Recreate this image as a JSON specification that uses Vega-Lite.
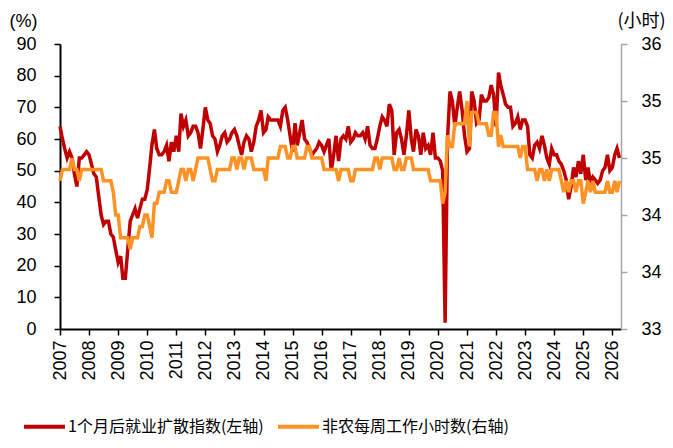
{
  "$schema": "https://vega.github.io/schema/vega-lite/v6.json",
  "autosize": "none",
  "width": 561,
  "height": 285,
  "padding": {"left": 60, "top": 44, "right": 52, "bottom": 119},
  "background": "white",
  "config": {
    "view": {"stroke": null},
    "font": "Liberation Sans",
    "axis": {"grid": false, "labelColor": "#000", "titleColor": "#000", "labelFont": "Liberation Sans", "titleFont": "Noto Sans CJK SC", "labelFontSize": 18, "titleFontSize": 18, "titleFontWeight": "normal"}
  },
  "data": {
    "format": {"parse": {"d": "utc:'%Y-%m'"}},
    "values": [
      {"d":"2007-01","r":64,"h":34.3},{"d":"2007-02","r":60,"h":34.4},{"d":"2007-03","r":57,"h":34.4},{"d":"2007-04","r":54,"h":34.4},{"d":"2007-05","r":56,"h":34.4},{"d":"2007-06","r":54,"h":34.5},{"d":"2007-07","r":49,"h":34.4},{"d":"2007-08","r":45,"h":34.4},{"d":"2007-09","r":54,"h":34.3},{"d":"2007-10","r":54,"h":34.4},{"d":"2007-11","r":55,"h":34.4},{"d":"2007-12","r":56,"h":34.4},
      {"d":"2008-01","r":55,"h":34.4},{"d":"2008-02","r":52,"h":34.4},{"d":"2008-03","r":49,"h":34.4},{"d":"2008-04","r":48,"h":34.4},{"d":"2008-05","r":42,"h":34.4},{"d":"2008-06","r":36,"h":34.4},{"d":"2008-07","r":33,"h":34.3},{"d":"2008-08","r":34,"h":34.3},{"d":"2008-09","r":34,"h":34.3},{"d":"2008-10","r":30,"h":34.3},{"d":"2008-11","r":29,"h":34.2},{"d":"2008-12","r":25,"h":34.0},
      {"d":"2009-01","r":21,"h":34.0},{"d":"2009-02","r":23,"h":33.8},{"d":"2009-03","r":16,"h":33.8},{"d":"2009-04","r":16,"h":33.8},{"d":"2009-05","r":25,"h":33.8},{"d":"2009-06","r":34,"h":33.7},{"d":"2009-07","r":36,"h":33.8},{"d":"2009-08","r":38,"h":33.8},{"d":"2009-09","r":35,"h":33.8},{"d":"2009-10","r":38,"h":33.9},{"d":"2009-11","r":41,"h":33.9},{"d":"2009-12","r":41,"h":34.0},
      {"d":"2010-01","r":44,"h":34.0},{"d":"2010-02","r":51,"h":33.9},{"d":"2010-03","r":58,"h":33.8},{"d":"2010-04","r":63,"h":34.1},{"d":"2010-05","r":57,"h":34.1},{"d":"2010-06","r":55,"h":34.2},{"d":"2010-07","r":55,"h":34.2},{"d":"2010-08","r":56,"h":34.2},{"d":"2010-09","r":58,"h":34.3},{"d":"2010-10","r":53,"h":34.3},{"d":"2010-11","r":59,"h":34.2},{"d":"2010-12","r":56,"h":34.2},
      {"d":"2011-01","r":61,"h":34.2},{"d":"2011-02","r":56,"h":34.3},{"d":"2011-03","r":68,"h":34.4},{"d":"2011-04","r":64,"h":34.4},{"d":"2011-05","r":66,"h":34.3},{"d":"2011-06","r":61,"h":34.4},{"d":"2011-07","r":62,"h":34.4},{"d":"2011-08","r":64,"h":34.3},{"d":"2011-09","r":64,"h":34.4},{"d":"2011-10","r":62,"h":34.5},{"d":"2011-11","r":57,"h":34.5},{"d":"2011-12","r":63,"h":34.5},
      {"d":"2012-01","r":70,"h":34.5},{"d":"2012-02","r":66,"h":34.5},{"d":"2012-03","r":65,"h":34.4},{"d":"2012-04","r":61,"h":34.3},{"d":"2012-05","r":60,"h":34.3},{"d":"2012-06","r":56,"h":34.4},{"d":"2012-07","r":58,"h":34.4},{"d":"2012-08","r":61,"h":34.4},{"d":"2012-09","r":62,"h":34.4},{"d":"2012-10","r":59,"h":34.4},{"d":"2012-11","r":60,"h":34.4},{"d":"2012-12","r":62,"h":34.5},
      {"d":"2013-01","r":63,"h":34.5},{"d":"2013-02","r":61,"h":34.4},{"d":"2013-03","r":58,"h":34.5},{"d":"2013-04","r":55,"h":34.5},{"d":"2013-05","r":59,"h":34.4},{"d":"2013-06","r":61,"h":34.5},{"d":"2013-07","r":60,"h":34.5},{"d":"2013-08","r":56,"h":34.5},{"d":"2013-09","r":59,"h":34.4},{"d":"2013-10","r":64,"h":34.4},{"d":"2013-11","r":66,"h":34.4},{"d":"2013-12","r":69,"h":34.4},
      {"d":"2014-01","r":62,"h":34.4},{"d":"2014-02","r":63,"h":34.3},{"d":"2014-03","r":67,"h":34.5},{"d":"2014-04","r":66,"h":34.5},{"d":"2014-05","r":66,"h":34.5},{"d":"2014-06","r":66,"h":34.5},{"d":"2014-07","r":66,"h":34.5},{"d":"2014-08","r":64,"h":34.6},{"d":"2014-09","r":69,"h":34.6},{"d":"2014-10","r":70,"h":34.6},{"d":"2014-11","r":66,"h":34.5},{"d":"2014-12","r":61,"h":34.5},
      {"d":"2015-01","r":56,"h":34.6},{"d":"2015-02","r":65,"h":34.6},{"d":"2015-03","r":58,"h":34.5},{"d":"2015-04","r":62,"h":34.5},{"d":"2015-05","r":66,"h":34.5},{"d":"2015-06","r":60,"h":34.5},{"d":"2015-07","r":59,"h":34.6},{"d":"2015-08","r":57,"h":34.6},{"d":"2015-09","r":55,"h":34.5},{"d":"2015-10","r":56,"h":34.5},{"d":"2015-11","r":57,"h":34.5},{"d":"2015-12","r":59,"h":34.5},
      {"d":"2016-01","r":58,"h":34.5},{"d":"2016-02","r":56,"h":34.4},{"d":"2016-03","r":58,"h":34.4},{"d":"2016-04","r":60,"h":34.4},{"d":"2016-05","r":50,"h":34.4},{"d":"2016-06","r":55,"h":34.4},{"d":"2016-07","r":61,"h":34.4},{"d":"2016-08","r":53,"h":34.3},{"d":"2016-09","r":60,"h":34.4},{"d":"2016-10","r":61,"h":34.4},{"d":"2016-11","r":60,"h":34.4},{"d":"2016-12","r":64,"h":34.4},
      {"d":"2017-01","r":59,"h":34.3},{"d":"2017-02","r":60,"h":34.3},{"d":"2017-03","r":62,"h":34.4},{"d":"2017-04","r":61,"h":34.4},{"d":"2017-05","r":61,"h":34.4},{"d":"2017-06","r":62,"h":34.4},{"d":"2017-07","r":60,"h":34.4},{"d":"2017-08","r":64,"h":34.4},{"d":"2017-09","r":58,"h":34.4},{"d":"2017-10","r":57,"h":34.4},{"d":"2017-11","r":57,"h":34.5},{"d":"2017-12","r":60,"h":34.5},
      {"d":"2018-01","r":64,"h":34.4},{"d":"2018-02","r":67,"h":34.5},{"d":"2018-03","r":66,"h":34.5},{"d":"2018-04","r":64,"h":34.5},{"d":"2018-05","r":71,"h":34.5},{"d":"2018-06","r":69,"h":34.5},{"d":"2018-07","r":55,"h":34.4},{"d":"2018-08","r":62,"h":34.4},{"d":"2018-09","r":63,"h":34.5},{"d":"2018-10","r":60,"h":34.4},{"d":"2018-11","r":55,"h":34.4},{"d":"2018-12","r":61,"h":34.5},
      {"d":"2019-01","r":69,"h":34.5},{"d":"2019-02","r":60,"h":34.5},{"d":"2019-03","r":56,"h":34.4},{"d":"2019-04","r":63,"h":34.4},{"d":"2019-05","r":61,"h":34.4},{"d":"2019-06","r":55,"h":34.4},{"d":"2019-07","r":62,"h":34.4},{"d":"2019-08","r":57,"h":34.4},{"d":"2019-09","r":58,"h":34.4},{"d":"2019-10","r":55,"h":34.3},{"d":"2019-11","r":62,"h":34.3},{"d":"2019-12","r":54,"h":34.3},
      {"d":"2020-01","r":54,"h":34.3},{"d":"2020-02","r":53,"h":34.3},{"d":"2020-03","r":50,"h":34.1},{"d":"2020-04","r":2,"h":34.2},{"d":"2020-05","r":60,"h":34.7},{"d":"2020-06","r":75,"h":34.6},{"d":"2020-07","r":72,"h":34.6},{"d":"2020-08","r":64,"h":34.8},{"d":"2020-09","r":70,"h":34.8},{"d":"2020-10","r":75,"h":34.8},{"d":"2020-11","r":69,"h":34.8},{"d":"2020-12","r":61,"h":34.8},
      {"d":"2021-01","r":56,"h":35.0},{"d":"2021-02","r":57,"h":34.6},{"d":"2021-03","r":75,"h":34.9},{"d":"2021-04","r":72,"h":34.9},{"d":"2021-05","r":65,"h":34.9},{"d":"2021-06","r":66,"h":34.8},{"d":"2021-07","r":74,"h":34.8},{"d":"2021-08","r":72,"h":34.8},{"d":"2021-09","r":72,"h":34.8},{"d":"2021-10","r":73,"h":34.7},{"d":"2021-11","r":77,"h":34.7},{"d":"2021-12","r":74,"h":34.9},
      {"d":"2022-01","r":64,"h":34.9},{"d":"2022-02","r":81,"h":34.6},{"d":"2022-03","r":77,"h":34.7},{"d":"2022-04","r":74,"h":34.6},{"d":"2022-05","r":71,"h":34.6},{"d":"2022-06","r":70,"h":34.6},{"d":"2022-07","r":70,"h":34.6},{"d":"2022-08","r":64,"h":34.6},{"d":"2022-09","r":65,"h":34.6},{"d":"2022-10","r":67,"h":34.6},{"d":"2022-11","r":63,"h":34.5},{"d":"2022-12","r":66,"h":34.6},
      {"d":"2023-01","r":66,"h":34.6},{"d":"2023-02","r":64,"h":34.4},{"d":"2023-03","r":55,"h":34.4},{"d":"2023-04","r":54,"h":34.4},{"d":"2023-05","r":58,"h":34.4},{"d":"2023-06","r":59,"h":34.3},{"d":"2023-07","r":57,"h":34.4},{"d":"2023-08","r":61,"h":34.4},{"d":"2023-09","r":58,"h":34.3},{"d":"2023-10","r":54,"h":34.4},{"d":"2023-11","r":52,"h":34.3},{"d":"2023-12","r":57,"h":34.4},
      {"d":"2024-01","r":55,"h":34.4},{"d":"2024-02","r":55,"h":34.4},{"d":"2024-03","r":53,"h":34.4},{"d":"2024-04","r":52,"h":34.3},{"d":"2024-05","r":50,"h":34.2},{"d":"2024-06","r":47,"h":34.3},{"d":"2024-07","r":41,"h":34.2},{"d":"2024-08","r":45,"h":34.3},{"d":"2024-09","r":51,"h":34.3},{"d":"2024-10","r":48,"h":34.2},{"d":"2024-11","r":53,"h":34.3},{"d":"2024-12","r":49,"h":34.3},
      {"d":"2025-01","r":55,"h":34.1},{"d":"2025-02","r":47,"h":34.2},{"d":"2025-03","r":51,"h":34.3},{"d":"2025-04","r":46,"h":34.2},{"d":"2025-05","r":48,"h":34.3},{"d":"2025-06","r":47,"h":34.2},{"d":"2025-07","r":46,"h":34.2},{"d":"2025-08","r":47,"h":34.2},{"d":"2025-09","r":50,"h":34.2},{"d":"2025-10","r":51,"h":34.2},{"d":"2025-11","r":55,"h":34.3},{"d":"2025-12","r":50,"h":34.2},
      {"d":"2026-01","r":51,"h":34.2},{"d":"2026-02","r":55,"h":34.3},{"d":"2026-03","r":57,"h":34.2},{"d":"2026-04","r":54,"h":34.3}
    ]
  },
  "encoding": {
    "x": {
      "field": "d", "type": "temporal",
      "scale": {"type": "utc", "domain": [{"year": 2007, "month": 1, "date": 1, "utc": true}, {"year": 2026, "month": 4, "date": 20, "utc": true}]},
      "axis": {"title": null, "format": "%Y", "tickCount": {"interval": "year", "step": 1}, "labelAngle": 270, "labelAlign": "right", "labelBaseline": "middle", "labelPadding": 5, "domainColor": "#000", "domainWidth": 2, "tickColor": "#000", "tickWidth": 1.5, "tickSize": 6, "labelOverlap": false, "labelFlush": false}
    }
  },
  "layer": [
    {
      "mark": {"type": "line", "strokeWidth": 3.5, "interpolate": "linear"},
      "encoding": {
        "y": {"field": "r", "type": "quantitative", "scale": {"domain": [0, 90]},
          "axis": {"orient": "left", "values": [0,10,20,30,40,50,60,70,80,90], "title": "(%)", "titleAngle": 0, "titleAlign": "left", "titleBaseline": "middle", "titleX": -51, "titleY": -23, "titleFont": "Liberation Sans", "labelPadding": 18, "domainColor": "#000", "domainWidth": 2, "tickColor": "#000", "tickWidth": 1.5, "tickSize": 6}},
        "color": {"datum": "1个月后就业扩散指数(左轴)", "type": "nominal",
          "scale": {"domain": ["1个月后就业扩散指数(左轴)", "非农每周工作小时数(右轴)"], "range": ["#C00000", "#FF9224"]},
          "legend": {"title": null, "orient": "none", "direction": "horizontal", "legendX": -38, "legendY": 360, "symbolType": "stroke", "symbolSize": 1681, "symbolStrokeWidth": 4, "labelFont": "Noto Sans CJK SC", "labelFontSize": 16, "labelColor": "#000", "labelOffset": 1, "columnPadding": 6, "labelLimit": 400}}
      }
    },
    {
      "mark": {"type": "line", "strokeWidth": 3.5, "interpolate": "linear"},
      "encoding": {
        "y": {"field": "h", "type": "quantitative", "scale": {"domain": [33, 35.5], "zero": false},
          "axis": {"orient": "right", "values": [33,33.5,34,34.5,35,35.5], "format": ".0f", "title": "(小时)", "titleAngle": 0, "titleAlign": "left", "titleBaseline": "middle", "titleX": -4, "titleY": -23, "labelPadding": 14, "domainColor": "#A6A6A6", "domainWidth": 1.5, "tickColor": "#A6A6A6", "tickWidth": 1.5, "tickSize": 6}},
        "color": {"datum": "非农每周工作小时数(右轴)", "type": "nominal"}
      }
    }
  ],
  "resolve": {"scale": {"y": "independent"}}
}
